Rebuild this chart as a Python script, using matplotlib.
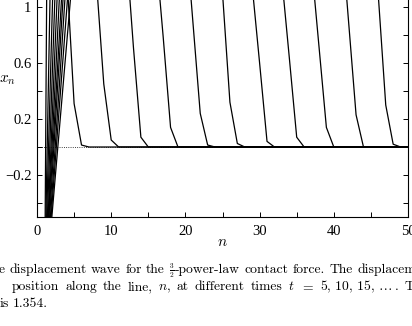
import numpy as np
import matplotlib
matplotlib.use('Agg')
import matplotlib.pyplot as plt
from matplotlib.ticker import FixedLocator, FixedFormatter

plt.rcParams['mathtext.fontset'] = 'cm'
plt.rcParams['font.family'] = ['Liberation Serif', 'DejaVu Serif']

# lattice sites
n = np.arange(1, 51)

# snapshots t = 5, 10, 15, ... : rising part from n = 1, falling front part
rise = [
    [-1.12, -0.35, 0.43],
    [-1.12, -0.50, 0.12, 0.74, 1.36],
    [-1.13, -0.43, 0.28, 0.98, 1.68],
    [-1.10, -0.24, 0.62, 1.48],
    [-1.05, -0.14, 0.78, 1.69],
    [-1.09, -0.02, 1.05, 2.12],
    [-1.15, 0.15, 1.44],
    [-1.12, 0.43, 1.98],
    [-1.08, 0.86, 2.79],
    [-1.06, 1.75],
    [-1.28, 6.50],
]
fall_start = [4, 8, 12, 16, 20, 25, 29, 33, 37, 41, 45]
fall = [
    [1.25, 0.31, 0.014, 0.0],
    [1.19, 0.45, 0.05, 0.0],
    [1.43, 0.71, 0.07, 0.0],
    [1.40, 0.79, 0.14, 0.0],
    [1.56, 0.90, 0.24, 0.014, 0.0],
    [1.10, 0.32, 0.025, 0.0],
    [1.15, 0.60, 0.04, 0.0],
    [1.20, 0.64, 0.07, 0.0],
    [1.30, 0.72, 0.14, 0.0],
    [1.55, 0.89, 0.23, 0.0],
    [1.80, 1.08, 0.30, 0.02, 0.0],
]
off_top = 2.0  # values above the top of the frame

ytick_major = [-0.2, 0.2, 0.6, 1.0]
ytick_labels = ['\u22120.2', '0.2', '0.6', '1']
ytick_minor = [-0.4, 0.0, 0.4, 0.8]
xtick_major = [0, 10, 20, 30, 40, 50]
xtick_minor = [5, 15, 25, 35, 45]


def profile(r, s, f):
    x = np.zeros(len(n))
    x[:len(r)] = r
    x[len(r):s - 1] = off_top
    x[s - 1:s - 1 + len(f)] = f
    return x


W, H = 412, 326
fig = plt.figure(figsize=(W / 100, H / 100), dpi=100)
ax = fig.add_axes([37 / W, 109 / H, 371 / W, 1.7 * 140 / H])

ax.axhline(0, color='k', ls=':', lw=0.6)
for r, s, f in zip(rise, fall_start, fall):
    ax.plot(n, profile(r, s, f), color='k', lw=0.9)

ax.set_xlim(0, 50)
ax.set_ylim(-0.5, 1.2)
ax.xaxis.set_major_locator(FixedLocator(xtick_major))
ax.xaxis.set_minor_locator(FixedLocator(xtick_minor))
ax.yaxis.set_major_locator(FixedLocator(ytick_major))
ax.yaxis.set_major_formatter(FixedFormatter(ytick_labels))
ax.yaxis.set_minor_locator(FixedLocator(ytick_minor))
ax.tick_params(which='both', direction='in', length=3.5, width=0.7,
               right=True, top=False, labelsize=10.5)
ax.tick_params(axis='x', pad=6)
ax.tick_params(axis='y', pad=4)
for sp in ax.spines.values():
    sp.set_linewidth(0.8)
ax.spines['top'].set_visible(False)

fig.text(7 / W, 1 - 80 / H, r'$x_n$', fontsize=11, ha='center', va='center')
fig.text(222.5 / W, 1 - 243 / H, r'$n$', fontsize=11, ha='center', va='center')

# caption, justified: baseline px, first word left px, last word left px
FS = 9.8
cap = [
    (273, -1, 357, [['e'], ['displacement'], ['wave'], ['for'], ['the'],
                    [(r'$\frac{3}{2}$', 7.5), '-power-law'], ['contact'],
                    ['force.'], ['The'], ['displacement']]),
    (290, 12, 405, [['position'], ['along'], ['the'], ['line,'], [r'$n$,'],
                    ['at'], ['different'], ['times'], [r'$t$'], [r'$=$'],
                    [r'$5,\,10,\,15,\,\ldots\,.$'], ['The']]),
    (307, 0, 0, [['is'], ['1.354.']]),
]
renderer = fig.canvas.get_renderer()
for yb, x0, x1, words in cap:
    placed = []
    for word in words:
        pieces = []
        for p in word:
            txt, fs = p if isinstance(p, tuple) else (p, FS)
            t = fig.text(0, 1 - yb / H, txt, fontsize=fs, family='cmr10',
                         ha='left', va='baseline')
            pieces.append((t, t.get_window_extent(renderer).width))
        placed.append(pieces)
    widths = [sum(w for _, w in pcs) for pcs in placed]
    if x1 > x0:
        gap = (x1 - x0 - sum(widths[:-1])) / (len(placed) - 1)
    else:
        gap = 3.5
    x = x0
    for pcs, wd in zip(placed, widths):
        xp = x
        for t, w in pcs:
            t.set_x(xp / W)
            xp += w
        x += wd + gap

fig.savefig('out.png', dpi=100)
